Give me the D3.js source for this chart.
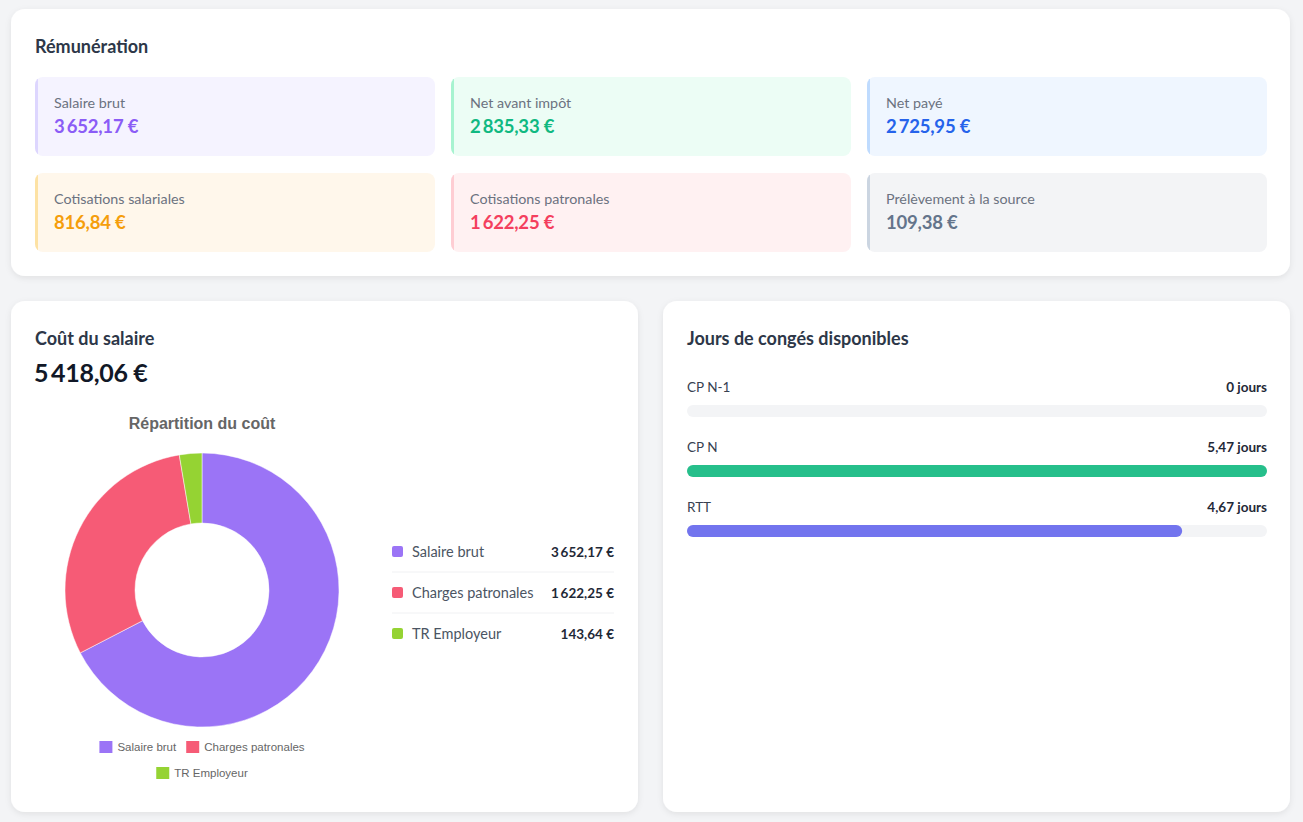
<!DOCTYPE html>
<html><head><meta charset="utf-8">
<script src="https://cdn.jsdelivr.net/npm/d3@7"></script>
<style>
html,body{margin:0;padding:0;background:#f3f4f6;}
svg{display:block;}
.ui{font-family:Lato,"Noto Sans",sans-serif;}
</style></head>
<body>
<svg id="c" width="1303" height="822"></svg>
<script>
// ---- Data ----
const remuLabels = ["Salaire brut","Net avant impôt","Net payé","Cotisations salariales","Cotisations patronales","Prélèvement à la source"];
const remuValues = [3652.17, 2835.33, 2725.95, 816.84, 1622.25, 109.38];
const remuBg     = ["#f5f3ff","#ecfdf5","#eff6ff","#fff7eb","#fff1f2","#f3f4f6"];
const remuBorder = ["#ddd6fe","#a7f3d0","#bfdbfe","#fde2a4","#fecdd3","#cbd5e1"];
const remuColor  = ["#8b5cf6","#10b981","#2563eb","#f59e0b","#f43f5e","#64748b"];

const costTotal = 5418.06;
const costCategories = ["Salaire brut","Charges patronales","TR Employeur"];
const costValues = [3652.17, 1622.25, 143.64];
const costColors = ["#9b74f6","#f65b76","#95d333"];

const leaveCategories = ["CP N-1","CP N","RTT"];
const leaveValues = [0, 5.47, 4.67];
const leaveColors = ["#26bf8b","#26bf8b","#7274ee"];

// ---- Formatting ----
const fr = d3.formatLocale({decimal:",", thousands:"\u2009", grouping:[3], currency:["",""]});
const eur = v => fr.format(",.2f")(v) + "\u00a0€";
const days = v => fr.format(",.2~f")(v) + " jours";

const svg = d3.select("#c");
const defs = svg.append("defs");
const f = defs.append("filter").attr("id","sh").attr("x","-5%").attr("y","-5%").attr("width","110%").attr("height","115%");
f.append("feDropShadow").attr("dx",0).attr("dy",2).attr("stdDeviation",3).attr("flood-color","#000").attr("flood-opacity",0.08);

function card(x,y,w,h){
  svg.append("rect").attr("x",x).attr("y",y).attr("width",w).attr("height",h)
    .attr("rx",14).attr("fill","#fff").attr("filter","url(#sh)");
}
const titleStyle = s => s.attr("class","ui").attr("font-size",18).attr("font-weight",700).attr("fill","#2d3748");

// ---- Top card ----
card(11,9,1279,267);
svg.append("text").attr("x",35).attr("y",53).text("Rémunération").call(titleStyle);

const tiles = svg.append("g").selectAll("g").data(remuLabels).join("g")
  .attr("transform",(d,i)=>`translate(${35 + (i%3)*416},${77 + Math.floor(i/3)*96})`);
tiles.each(function(d,i){
  const g = d3.select(this);
  const cp = "clipT"+i;
  defs.append("clipPath").attr("id",cp).append("rect").attr("width",400).attr("height",79).attr("rx",8);
  const gg = g.append("g").attr("clip-path",`url(#${cp})`);
  gg.append("rect").attr("width",400).attr("height",79).attr("fill",remuBg[i]);
  gg.append("rect").attr("width",3).attr("height",79).attr("fill",remuBorder[i]);
  g.append("text").attr("class","ui").attr("x",19).attr("y",31).attr("font-size",14.3).attr("fill","#6b7280").text(d);
  g.append("text").attr("class","ui").attr("x",19).attr("y",56).attr("font-size",18.5).attr("font-weight",700)
    .attr("letter-spacing",-0.2).attr("fill",remuColor[i]).text(eur(remuValues[i]));
});

// ---- Cost card ----
card(11,301,627,511);
svg.append("text").attr("x",35).attr("y",345).text("Coût du salaire").call(titleStyle);
svg.append("text").attr("class","ui").attr("x",34).attr("y",382).attr("font-size",25).attr("font-weight",700)
  .attr("letter-spacing",-0.3).attr("fill","#111827").text(eur(costTotal));

svg.append("text").attr("x",202).attr("y",429).attr("text-anchor","middle")
  .attr("font-family","'Liberation Sans',Arial,sans-serif").attr("font-size",16).attr("font-weight",700)
  .attr("fill","#666").text("Répartition du coût");

const pie = d3.pie().sort(null).value(d=>d)(costValues);
const arc = d3.arc().innerRadius(67).outerRadius(137);
svg.append("g").attr("transform","translate(202,590)").selectAll("path").data(pie).join("path")
  .attr("d",arc).attr("fill",(d,i)=>costColors[i]).attr("stroke","#fff").attr("stroke-width",0.5);

// chart legend (bottom)
const legRows = [[0,1],[2]];
const lg = svg.append("g").attr("font-family","'Liberation Sans',Arial,sans-serif").attr("font-size",11.5).attr("fill","#666");
legRows.forEach((row,ri)=>{
  const rg = lg.append("g");
  let x = 0;
  row.forEach(i=>{
    rg.append("rect").attr("x",x).attr("y",-6).attr("width",13).attr("height",12).attr("fill",costColors[i]);
    const t = rg.append("text").attr("x",x+18).attr("y",4).text(costCategories[i]);
    x += 18 + t.node().getComputedTextLength() + 10;
  });
  const w = x - 10;
  rg.attr("transform",`translate(${202 - w/2},${747 + ri*26})`);
});

// side list
const listY = d3.scaleBand().domain(costCategories).range([531,654]);
const li = svg.append("g").selectAll("g").data(costCategories).join("g")
  .attr("transform",d=>`translate(0,${listY(d)+listY.bandwidth()/2})`);
li.append("rect").attr("x",392).attr("y",-5.5).attr("width",11).attr("height",11).attr("rx",2).attr("fill",(d,i)=>costColors[i]);
li.append("text").attr("class","ui").attr("x",412).attr("y",5).attr("font-size",14.5).attr("fill","#4b5563").text(d=>d);
li.append("text").attr("class","ui").attr("x",614).attr("y",5).attr("text-anchor","end").attr("font-size",13.5)
  .attr("font-weight",700).attr("fill","#1f2937").text((d,i)=>eur(costValues[i]));
li.filter((d,i)=>i<costCategories.length-1).append("line").attr("x1",392).attr("x2",614)
  .attr("y1",listY.bandwidth()/2).attr("y2",listY.bandwidth()/2).attr("stroke","#f0f1f3").attr("stroke-width",1);

// ---- Leave card ----
card(663,301,627,511);
svg.append("text").attr("x",687).attr("y",345).text("Jours de congés disponibles").call(titleStyle);
const bx = d3.scaleLinear().domain([0, d3.max(leaveValues)]).range([687,1267]);
const by = d3.scaleBand().domain(leaveCategories).range([367,547]);
const lr = svg.append("g").selectAll("g").data(leaveCategories).join("g")
  .attr("transform",d=>`translate(0,${by(d)})`);
lr.append("text").attr("class","ui").attr("x",687).attr("y",25).attr("font-size",13.5).attr("fill","#374151").text(d=>d);
lr.append("text").attr("class","ui").attr("x",1267).attr("y",25).attr("text-anchor","end").attr("font-size",13.5)
  .attr("font-weight",700).attr("fill","#1f2937").text((d,i)=>days(leaveValues[i]));
lr.append("rect").attr("x",bx(0)).attr("y",38).attr("width",bx.range()[1]-bx(0)).attr("height",12).attr("rx",6).attr("fill","#f3f4f6");
lr.append("rect").attr("x",bx(0)).attr("y",38).attr("width",(d,i)=>bx(leaveValues[i])-bx(0)).attr("height",12).attr("rx",6)
  .attr("fill",(d,i)=>leaveColors[i]);
</script>
</body></html>
